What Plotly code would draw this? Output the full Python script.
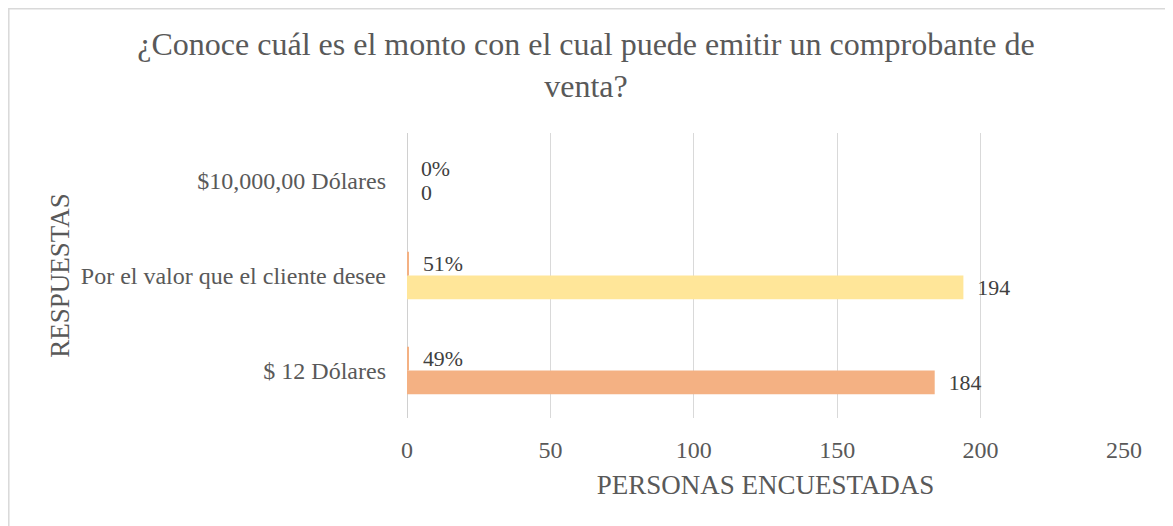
import plotly.graph_objects as go

categories = ["$ 12 Dólares", "Por el valor que el cliente desee", "$10,000,00 Dólares"]
counts = [184, 194, 0]
percents = [0.49, 0.51, 0.0]
count_colors = ["#F4B183", "#FFE699", "#F4B183"]
pct_colors = ["#F4B183", "#F4B183", "#F4B183"]
x_ticks = [0, 50, 100, 150, 200, 250]

title_text = "¿Conoce cuál es el monto con el cual puede emitir un comprobante de<br>venta?"
FONT = "Liberation Serif"
NB = "\u00a0"

# page offset of the figure (default body margin)
OX, OY = 8, 8
W, H = 1165, 518
L = 407 - OX
T = 133 - OY
R = W - (1124 - OX)
B = H - (418 - OY)
pw, ph = W - L - R, H - T - B

def px(x):
    return (x - OX - L) / pw

def py(y):
    return (H - B - (y - OY)) / ph

fig = go.Figure()
fig.add_trace(go.Bar(
    y=categories, x=counts, orientation="h", name="Personas",
    marker=dict(color=count_colors, line=dict(width=0)),
    text=[NB * 2 + str(v) for v in counts], textposition="outside",
    textfont=dict(family=FONT, size=23, color="#404040"),
    cliponaxis=False,
))
fig.add_trace(go.Bar(
    y=categories, x=percents, orientation="h", name="Porcentaje",
    marker=dict(color=pct_colors, line=dict(width=0)),
    text=[NB * 2 + f"{round(p*100)}%" for p in percents], textposition="outside",
    textfont=dict(family=FONT, size=23, color="#404040"),
    cliponaxis=False,
))

fig.update_layout(
    width=W, height=H,
    margin=dict(l=L, r=R, t=T, b=B, autoexpand=False),
    paper_bgcolor="white", plot_bgcolor="white",
    barmode="group", bargap=0.5, bargroupgap=0,
    showlegend=False,
    font=dict(family=FONT, color="#595959"),
    title=dict(text=title_text, x=(586 - OX) / W, xref="container", xanchor="center",
               y=1 - (55 - OY) / H, yanchor="middle",
               font=dict(family=FONT, size=32, color="#595959")),
    xaxis=dict(range=[0, 250], tickvals=x_ticks, showgrid=True,
               gridcolor="#D9D9D9", gridwidth=1.3, zeroline=True,
               zerolinecolor="#D0D0D0", zerolinewidth=1.3,
               showline=False, ticks="", ticklabelstandoff=15,
               tickfont=dict(family=FONT, size=24, color="#595959"),
               title=dict(text="PERSONAS ENCUESTADAS", standoff=13,
                          font=dict(family=FONT, size=27, color="#595959"))),
    yaxis=dict(showgrid=False, showline=False, ticks="", ticklabelstandoff=20,
               tickfont=dict(family=FONT, size=24, color="#595959"),
               title=dict(text="RESPUESTAS", standoff=3,
                          font=dict(family=FONT, size=27, color="#595959"))),
    shapes=[dict(type="rect", xref="paper", yref="paper",
                 x0=px(8.8), x1=px(1169.5), y0=py(560), y1=py(8.8),
                 line=dict(color="#D9D9D9", width=1.5), layer="below")],
)

fig.write_html("out.html")
